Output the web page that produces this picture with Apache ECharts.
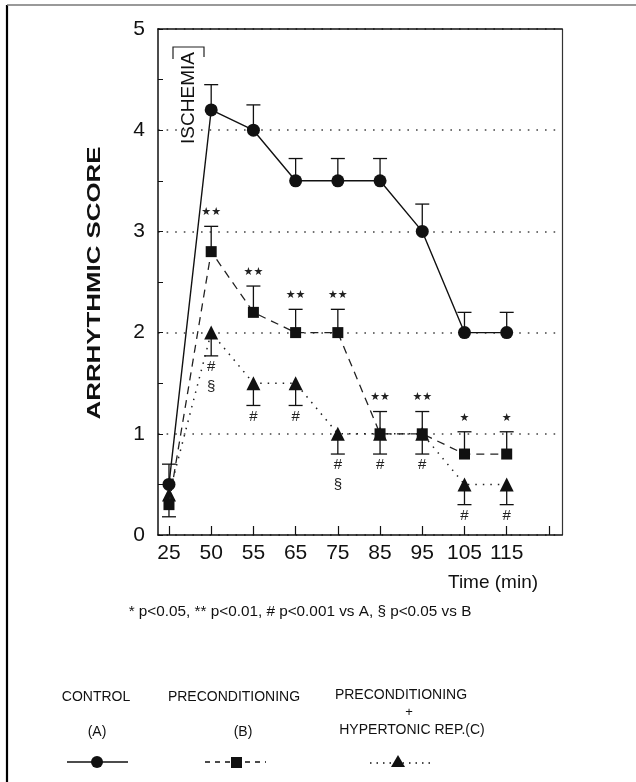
<!DOCTYPE html>
<html>
<head>
<meta charset="utf-8">
<script src="https://cdn.jsdelivr.net/npm/echarts@6/dist/echarts.min.js"></script>
<style>
html,body{margin:0;padding:0;background:#fff;}
#main{width:636px;height:782px;}
</style>
</head>
<body>
<div id="main"></div>
<script>
// ---- data ----
const categories = ['25', '50', '55', '65', '75', '85', '95', '105', '115'];
const yTicks = [0, 1, 2, 3, 4, 5];
const controlA = [0.5, 4.2, 4.0, 3.5, 3.5, 3.5, 3.0, 2.0, 2.0];
const controlAErr = [0.7, 4.45, 4.25, 3.72, 3.72, 3.72, 3.27, 2.2, 2.2];
const precondB = [0.3, 2.8, 2.2, 2.0, 2.0, 1.0, 1.0, 0.8, 0.8];
const precondBErr = [0.18, 3.05, 2.46, 2.23, 2.23, 1.22, 1.22, 1.02, 1.02];
const hyperC = [0.4, 2.0, 1.5, 1.5, 1.0, 1.0, 1.0, 0.5, 0.5];
const hyperCErr = [null, 1.77, 1.28, 1.28, 0.8, 0.8, 0.8, 0.3, 0.3];
const markB = ['', '★★', '★★', '★★', '★★', '★★', '★★', '★', '★'];
const markC = ['', '#\n§', '#', '#', '#\n§', '#', '#', '#', '#'];
const footnote = '* p<0.05, ** p<0.01, # p<0.001 vs A, § p<0.05 vs B';

const FONT = '"Liberation Sans", Arial, Helvetica, sans-serif';
const INK = '#111';

function pts(arr) { return arr.map((v, i) => [i, v]); }
function errPts(vals, errs) {
  const out = [];
  vals.forEach((v, i) => { if (errs[i] != null) out.push([i, v, errs[i]]); });
  return out;
}
function markPts(errs, marks, vals) {
  const out = [];
  marks.forEach((m, i) => { if (m) out.push([i, errs[i] != null ? errs[i] : vals[i], m]); });
  return out;
}

const errRender = function (params, api) {
  const x = api.value(0), v = api.value(1), e = api.value(2);
  const p0 = api.coord([x, v]);
  const p1 = api.coord([x, e]);
  const st = { stroke: INK, lineWidth: 1.3 };
  return {
    type: 'group',
    children: [
      { type: 'line', shape: { x1: p0[0], y1: p0[1], x2: p1[0], y2: p1[1] }, style: st },
      { type: 'line', shape: { x1: p1[0] - 7, y1: p1[1], x2: p1[0] + 7, y2: p1[1] }, style: st }
    ]
  };
};
function markRender(above) {
  return function (params, api) {
    const p = api.coord([api.value(0), api.value(1)]);
    const txt = api.value(2);
    return {
      type: 'text',
      style: {
        x: p[0], y: above ? p[1] - 14 : p[1] + 1,
        text: txt,
        fill: '#222',
        font: above ? '11px "DejaVu Sans", sans-serif' : '15px ' + FONT,
        textAlign: 'center',
        textVerticalAlign: above ? 'middle' : 'top',
        lineHeight: 20
      }
    };
  };
}

const chart = echarts.init(document.getElementById('main'), null, { renderer: 'canvas' });

const option = {
  backgroundColor: '#fff',
  animation: false,
  grid: { left: 158, top: 29, right: 74, bottom: 247, containLabel: false },
  xAxis: [{
    type: 'value', min: -0.26, max: 9.31,
    axisLine: { onZero: false, lineStyle: { color: INK, width: 1.5 } },
    axisTick: { inside: true, length: 9, customValues: [0, 1, 2, 3, 4, 5, 6, 7, 8, 9], lineStyle: { color: INK, width: 1.2 } },
    axisLabel: {
      customValues: categories.map((c, i) => i),
      formatter: v => categories[Math.round(v)] || '',
      color: '#111', fontSize: 21, fontFamily: FONT, margin: 8
    },
    splitLine: { show: false }
  }, {
    type: 'value', min: -0.26, max: 9.31, position: 'top',
    axisLine: { show: true, onZero: false, lineStyle: { color: INK, width: 1.5 } },
    axisTick: { show: false }, axisLabel: { show: false }, splitLine: { show: false }
  }],
  yAxis: [{
    type: 'value', min: 0, max: 5, interval: 1,
    axisLine: { show: true, onZero: false, lineStyle: { color: INK, width: 1.5 } },
    axisTick: { show: true, inside: true, length: 5, lineStyle: { color: INK } },
    minorTick: { show: true, splitNumber: 2, length: 5, lineStyle: { color: INK } },
    axisLabel: {
      formatter: v => (yTicks.indexOf(v) >= 0 ? String(v) : ''),
      color: '#111', fontSize: 21, fontFamily: FONT, margin: 13, padding: [8, 0, 0, 0]
    },
    splitLine: { show: true, lineStyle: { color: '#444', width: 1.6, type: [1.6, 7] } }
  }, {
    type: 'value', min: 0, max: 5, position: 'right',
    axisLine: { show: true, onZero: false, lineStyle: { color: '#333', width: 1.2 } },
    axisTick: { show: false }, axisLabel: { show: false }, splitLine: { show: false }
  }],
  series: [
    { type: 'custom', name: 'errA', z: 1, renderItem: errRender, data: errPts(controlA, controlAErr) },
    { type: 'custom', name: 'errB', z: 1, renderItem: errRender, data: errPts(precondB, precondBErr) },
    { type: 'custom', name: 'errC', z: 1, renderItem: errRender, data: errPts(hyperC, hyperCErr) },
    {
      type: 'line', name: 'PRECONDITIONING + HYPERTONIC REP.(C)', data: pts(hyperC),
      symbol: 'triangle', symbolSize: 14, showAllSymbol: true,
      lineStyle: { color: '#222', width: 1.5, type: [1.5, 6] },
      itemStyle: { color: INK }, z: 3
    },
    {
      type: 'line', name: 'PRECONDITIONING (B)', data: pts(precondB),
      symbol: 'rect', symbolSize: 11, showAllSymbol: true,
      lineStyle: { color: '#222', width: 1.3, type: [8, 6] },
      itemStyle: { color: INK }, z: 4
    },
    {
      type: 'line', name: 'CONTROL (A)', data: pts(controlA),
      symbol: 'circle', symbolSize: 13, showAllSymbol: true,
      lineStyle: { color: INK, width: 1.4 },
      itemStyle: { color: INK }, z: 5
    },
    { type: 'custom', name: 'marksB', z: 6, renderItem: markRender(true), data: markPts(precondBErr, markB, precondB) },
    { type: 'custom', name: 'marksC', z: 6, renderItem: markRender(false), data: markPts(hyperCErr, markC, hyperC) }
  ],
  graphic: [
    // figure frame
    { type: 'line', shape: { x1: 7, y1: 5, x2: 7, y2: 782 }, style: { stroke: '#000', lineWidth: 2.2 } },
    { type: 'line', shape: { x1: 7, y1: 5, x2: 636, y2: 5 }, style: { stroke: '#777', lineWidth: 1.5 } },
    // y axis title
    {
      type: 'text', x: 95, y: 283, rotation: Math.PI / 2, scaleX: 1.36,
      style: { text: 'ARRHYTHMIC SCORE', font: 'bold 19px ' + FONT, fill: '#111', textAlign: 'center', textVerticalAlign: 'middle' }
    },
    // ischemia bracket
    { type: 'polyline', shape: { points: [[173, 59], [173, 47], [204, 47], [204, 57]] }, style: { stroke: '#222', lineWidth: 1.2, fill: null } },
    {
      type: 'text', x: 189, y: 98, rotation: Math.PI / 2,
      style: { text: 'ISCHEMIA', font: '19px ' + FONT, fill: '#111', textAlign: 'center', textVerticalAlign: 'middle' }
    },
    // x axis unit
    { type: 'text', x: 448, y: 583, style: { text: 'Time (min)', font: '19px ' + FONT, fill: '#111', textAlign: 'left', textVerticalAlign: 'middle' } },
    // footnote
    { type: 'text', x: 300, y: 612, style: { text: footnote, font: '15.3px ' + FONT, fill: '#111', textAlign: 'center', textVerticalAlign: 'middle' } },
    // legend A
    { type: 'text', x: 96, y: 697, style: { text: 'CONTROL', font: '14px ' + FONT, fill: '#111', textAlign: 'center', textVerticalAlign: 'middle' } },
    { type: 'text', x: 97, y: 732, style: { text: '(A)', font: '14px ' + FONT, fill: '#111', textAlign: 'center', textVerticalAlign: 'middle' } },
    { type: 'line', shape: { x1: 67, y1: 762, x2: 128, y2: 762 }, style: { stroke: INK, lineWidth: 1.5 } },
    { type: 'circle', shape: { cx: 97, cy: 762, r: 6 }, style: { fill: INK } },
    // legend B
    { type: 'text', x: 234, y: 697, style: { text: 'PRECONDITIONING', font: '14px ' + FONT, fill: '#111', textAlign: 'center', textVerticalAlign: 'middle' } },
    { type: 'text', x: 243, y: 732, style: { text: '(B)', font: '14px ' + FONT, fill: '#111', textAlign: 'center', textVerticalAlign: 'middle' } },
    { type: 'line', shape: { x1: 205, y1: 762, x2: 266, y2: 762 }, style: { stroke: INK, lineWidth: 1.5, lineDash: [5, 5] } },
    { type: 'rect', shape: { x: 231, y: 757, width: 11, height: 11 }, style: { fill: INK } },
    // legend C
    { type: 'text', x: 401, y: 695, style: { text: 'PRECONDITIONING', font: '14px ' + FONT, fill: '#111', textAlign: 'center', textVerticalAlign: 'middle' } },
    { type: 'text', x: 409, y: 712, style: { text: '+', font: '13px ' + FONT, fill: '#111', textAlign: 'center', textVerticalAlign: 'middle' } },
    { type: 'text', x: 412, y: 730, style: { text: 'HYPERTONIC REP.(C)', font: '14px ' + FONT, fill: '#111', textAlign: 'center', textVerticalAlign: 'middle' } },
    { type: 'line', shape: { x1: 370, y1: 763, x2: 431, y2: 763 }, style: { stroke: INK, lineWidth: 1.5, lineDash: [1.5, 5] } },
    { type: 'polygon', shape: { points: [[398, 755], [405, 767], [391, 767]] }, style: { fill: INK } }
  ]
};
chart.setOption(option);
</script>
</body>
</html>
